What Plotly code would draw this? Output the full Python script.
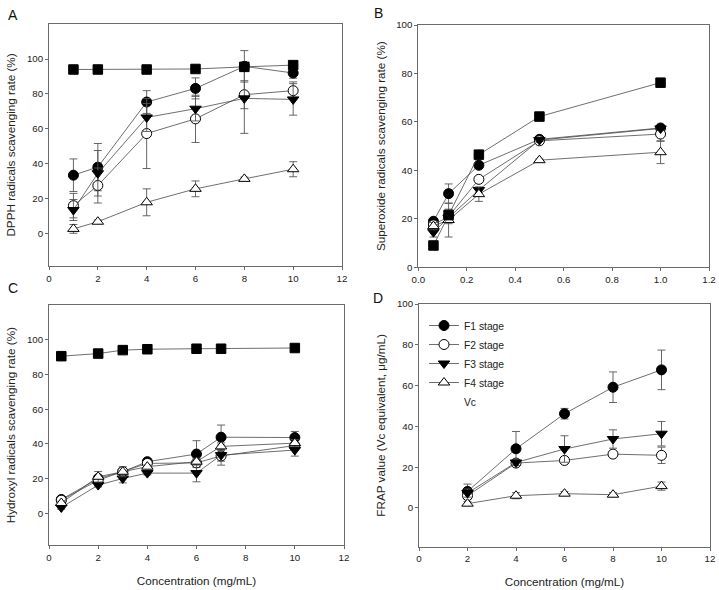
import plotly.graph_objects as go

# ---------------- data ----------------
series_names = ["F1 stage", "F2 stage", "F3 stage", "F4 stage", "Vc"]

# Panel A: DPPH
a_x = [1, 2, 4, 6, 8, 10]
a_f1 = [33.6, 38.2, 75.4, 83.2, 95.8, 92.0]
a_f1_err = [9.3, 13.5, 6.5, 6.0, 9.0, 3.0]
a_f2 = [16.2, 27.7, 57.4, 65.8, 79.6, 81.9]
a_f2_err = [7.0, 10.0, 20.0, 13.5, 8.0, 5.0]
a_f3 = [13.7, 34.7, 66.6, 71.6, 77.5, 76.9]
a_f3_err = [6.0, 13.0, 8.0, 7.0, 20.0, 9.0]
a_f4 = [2.9, 7.0, 18.1, 25.8, 31.5, 37.0]
a_f4_err = [2.5, 1.0, 7.7, 4.5, 1.0, 4.3]
a_vc = [94.0, 94.0, 94.0, 94.3, 95.5, 96.5]
a_vc_err = [0.5, 0.5, 0.5, 0.5, 0.5, 0.5]

# Panel B: superoxide
b_x = [0.0625, 0.125, 0.25, 0.5, 1.0]
b_f1 = [19.0, 30.4, 42.1, 52.8, 57.5]
b_f1_err = [1.0, 4.0, 1.0, 0.5, 0.5]
b_f2 = [17.5, 21.0, 36.3, 52.2, 55.0]
b_f2_err = [1.0, 3.0, 1.0, 0.5, 3.0]
b_f3 = [14.5, 20.5, 31.9, 52.5, 57.3]
b_f3_err = [2.0, 2.0, 1.0, 0.5, 0.5]
b_f4 = [17.0, 19.5, 30.2, 44.2, 47.5]
b_f4_err = [1.5, 7.0, 3.0, 0.5, 4.7]
b_vc = [9.0, 21.6, 46.5, 62.2, 76.2]
b_vc_err = [1.0, 2.0, 0.5, 0.5, 0.5]

# Panel C: hydroxyl
c_x = [0.5, 2, 3, 4, 6, 7, 10]
c_f1 = [7.9, 20.0, 23.9, 29.7, 34.1, 43.8, 43.6]
c_f1_err = [1.0, 1.5, 1.5, 1.0, 7.7, 7.0, 3.5]
c_f2 = [7.5, 19.0, 24.0, 28.7, 29.0, 33.0, 39.0]
c_f2_err = [1.0, 1.5, 1.5, 1.0, 2.0, 3.0, 2.0]
c_f3 = [3.3, 16.2, 20.0, 23.1, 23.1, 33.5, 36.4]
c_f3_err = [1.0, 1.0, 2.5, 1.0, 5.0, 5.8, 3.5]
c_f4 = [5.9, 21.0, 23.9, 26.8, 29.7, 38.5, 40.4]
c_f4_err = [1.0, 3.0, 2.9, 1.0, 2.0, 2.0, 2.0]
c_vc = [90.5, 92.0, 94.0, 94.5, 94.8, 94.8, 95.2]
c_vc_err = [0.5, 0.5, 0.5, 0.5, 0.5, 0.5, 0.5]

# Panel D: FRAP
d_x = [2, 4, 6, 8, 10]
d_f1 = [8.1, 29.0, 46.2, 59.2, 67.7]
d_f1_err = [3.6, 8.5, 2.6, 7.5, 9.7]
d_f2 = [6.0, 22.0, 23.3, 26.4, 25.8]
d_f2_err = [1.5, 1.5, 1.5, 1.5, 4.0]
d_f3 = [7.3, 22.3, 28.9, 33.8, 36.4]
d_f3_err = [2.0, 1.5, 6.5, 4.5, 6.0]
d_f4 = [2.1, 6.0, 7.0, 6.5, 10.7]
d_f4_err = [1.0, 1.5, 1.0, 1.0, 2.0]

# tick labels
tick_0_100 = [0, 20, 40, 60, 80, 100]
tick_0_12 = [0, 2, 4, 6, 8, 10, 12]
tick_b_x = [0.0, 0.2, 0.4, 0.6, 0.8, 1.0, 1.2]

panel_labels = ["A", "B", "C", "D"]
y_titles = [
    "DPPH radicals scavenging rate (%)",
    "Superoxide radicals scavenging rate (%)",
    "Hydroxyl radicals scavenging rate (%)",
    "FRAP value (Vc equivalent, \u03bcg/mL)",
]
x_title = "Concentration (mg/mL)"

# ---------------- styles ----------------
FONT = "Liberation Sans, Arial, sans-serif"
LINE_C = "#4a4a4a"
ERR_C = "#555555"
styles = [
    dict(symbol="circle", color="black", size=10),
    dict(symbol="circle-open", color="black", size=10),
    dict(symbol="triangle-down", color="black", size=10),
    dict(symbol="triangle-up-open", color="black", size=10),
    dict(symbol="square", color="black", size=9.5),
]

fig = go.Figure()


def add_series(xv, yv, ev, k, xa, ya, show):
    st = styles[k]
    marker = dict(symbol=st["symbol"], size=st["size"], color=st["color"],
                  line=dict(color="black", width=1))
    if "open" in st["symbol"]:
        marker = dict(symbol=st["symbol"].replace("-open", ""), size=st["size"],
                      color="white", line=dict(color="black", width=1))
    fig.add_trace(go.Scatter(
        x=xv, y=yv, mode="lines+markers", name=series_names[k],
        xaxis=xa, yaxis=ya, showlegend=show,
        line=dict(color=LINE_C, width=0.8),
        marker=marker,
        error_y=dict(type="data", array=ev, visible=True, color=ERR_C,
                     thickness=0.9, width=4),
    ))


panels = [
    (a_x, [a_f1, a_f2, a_f3, a_f4, a_vc], [a_f1_err, a_f2_err, a_f3_err, a_f4_err, a_vc_err], "x", "y"),
    (b_x, [b_f1, b_f2, b_f3, b_f4, b_vc], [b_f1_err, b_f2_err, b_f3_err, b_f4_err, b_vc_err], "x2", "y2"),
    (c_x, [c_f1, c_f2, c_f3, c_f4, c_vc], [c_f1_err, c_f2_err, c_f3_err, c_f4_err, c_vc_err], "x3", "y3"),
    (d_x, [d_f1, d_f2, d_f3, d_f4], [d_f1_err, d_f2_err, d_f3_err, d_f4_err], "x4", "y4"),
]
for pi, (xv, ys, es, xa, ya) in enumerate(panels):
    for k, (yv, ev) in enumerate(zip(ys, es)):
        add_series(xv, yv, ev, k, xa, ya, show=(pi == 3))

# legend-only "Vc" entry (no symbol shown in the original legend)
fig.add_trace(go.Scatter(x=[None], y=[None], mode="lines", name="Vc",
                         xaxis="x4", yaxis="y4", showlegend=True,
                         line=dict(color="rgba(0,0,0,0)", width=0)))

W, H = 719, 590


def dx(p0, p1):
    return [p0 / W, p1 / W]


def dy(p0, p1):
    return [1 - p1 / H, 1 - p0 / H]


axis_common = dict(showline=True, linecolor="#6a6a6a", linewidth=1, mirror=True,
                   ticks="outside", ticklen=3, tickcolor="#6a6a6a", tickwidth=1,
                   showgrid=False, zeroline=False, automargin=False,
                   tickfont=dict(family=FONT, size=9.7, color="#222"))
title_font = dict(family=FONT, size=11.7, color="#222")

fig.update_layout(
    width=W, height=H,
    margin=dict(l=0, r=0, t=0, b=0, pad=0),
    paper_bgcolor="white", plot_bgcolor="white",
    font=dict(family=FONT, color="#222"),
    xaxis=dict(domain=dx(49, 342), anchor="y", range=[0, 12], tickvals=tick_0_12, **axis_common),
    yaxis=dict(domain=dy(24, 266), anchor="x", range=[-18.3, 120], tickvals=tick_0_100,
               title=dict(text=y_titles[0], font=title_font, standoff=8), **axis_common),
    xaxis2=dict(domain=dx(418.3, 709), anchor="y2", range=[0, 1.2], tickvals=tick_b_x,
                tickformat=".1f", **axis_common),
    yaxis2=dict(domain=dy(25, 267.3), anchor="x2", range=[0, 100], tickvals=tick_0_100,
                title=dict(text=y_titles[1], font=title_font, standoff=8), **axis_common),
    xaxis3=dict(domain=dx(49, 344), anchor="y3", range=[0, 12], tickvals=tick_0_12,
                title=dict(text=x_title, font=title_font, standoff=14), **axis_common),
    yaxis3=dict(domain=dy(305, 545.3), anchor="x3", range=[-18.5, 120], tickvals=tick_0_100,
                title=dict(text=y_titles[2], font=title_font, standoff=8), **axis_common),
    xaxis4=dict(domain=dx(419, 710), anchor="y4", range=[0, 12], tickvals=tick_0_12,
                title=dict(text=x_title, font=title_font, standoff=14), **axis_common),
    yaxis4=dict(domain=dy(304, 546.7), anchor="x4", range=[-19, 100], tickvals=tick_0_100,
                title=dict(text=y_titles[3], font=title_font, standoff=8), **axis_common),
    legend=dict(x=424 / W, y=1 - 311 / H, xanchor="left", yanchor="top",
                bgcolor="rgba(0,0,0,0)", borderwidth=0,
                font=dict(family=FONT, size=10.3, color="#222"),
                itemwidth=30, tracegroupgap=0),
)

label_pos = [(6, 15), (372, 13), (6, 288), (371, 298)]
for lab, (px, py) in zip(panel_labels, label_pos):
    fig.add_annotation(text=lab, x=px / W, y=1 - py / H, xref="paper", yref="paper",
                       xanchor="left", yanchor="middle", showarrow=False,
                       font=dict(family=FONT, size=14, color="#111"))

fig.write_html("out.html", config={"displayModeBar": False},
               post_script="document.body.style.margin='0';document.body.style.padding='0';")
